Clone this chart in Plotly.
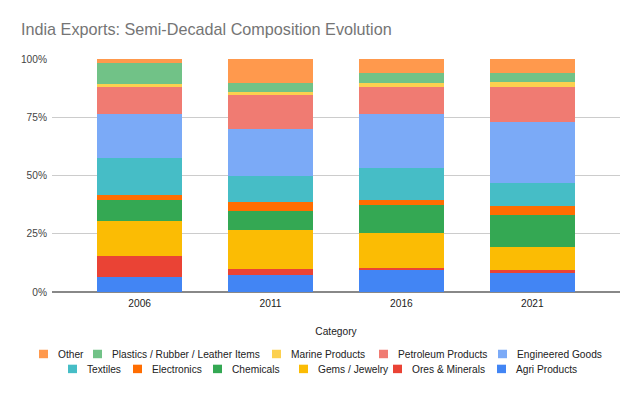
import plotly.graph_objects as go

# ---------------- data ----------------
years = ["2006", "2011", "2016", "2021"]

agri_products = [6.6, 7.1, 9.3, 8.1]
ores_minerals = [8.9, 2.9, 0.9, 1.4]
gems_jewelry = [15.1, 16.7, 15.0, 10.0]
chemicals = [9.0, 8.1, 12.3, 13.6]
electronics = [2.1, 3.6, 2.1, 3.6]
textiles = [15.7, 11.4, 13.6, 10.0]
engineered_goods = [19.0, 20.1, 23.4, 26.4]
petroleum_products = [11.4, 14.7, 11.3, 14.9]
marine_products = [1.4, 1.3, 1.9, 2.1]
plastics_rubber_leather = [8.9, 3.6, 4.4, 3.7]
other = [1.9, 10.4, 5.9, 6.1]

series_names = [
    "Agri Products", "Ores & Minerals", "Gems / Jewelry", "Chemicals",
    "Electronics", "Textiles", "Engineered Goods", "Petroleum Products",
    "Marine Products", "Plastics / Rubber / Leather Items", "Other",
]
series_values = [
    agri_products, ores_minerals, gems_jewelry, chemicals, electronics,
    textiles, engineered_goods, petroleum_products, marine_products,
    plastics_rubber_leather, other,
]

y_tick_vals = [0, 0.25, 0.5, 0.75, 1.0]
y_tick_text = ["0%", "25%", "50%", "75%", "100%"]

# ---------------- styles ----------------
colors = {
    "Agri Products": "#4285F4",
    "Ores & Minerals": "#EA4335",
    "Gems / Jewelry": "#FBBC04",
    "Chemicals": "#34A853",
    "Electronics": "#FF6D01",
    "Textiles": "#46BDC6",
    "Engineered Goods": "#7BAAF7",
    "Petroleum Products": "#F07B72",
    "Marine Products": "#FCD04F",
    "Plastics / Rubber / Leather Items": "#71C287",
    "Other": "#FF994D",
}

FONT = "Arial, Liberation Sans, sans-serif"
OFF = 8  # page body margin in the browser
W, H = 640 - OFF, 396 - OFF
ML, MR, MT = 52 - OFF, 20, 58.5 - OFF
PLOT_BOTTOM = 292.5 - OFF
MB = H - PLOT_BOTTOM
PW = W - ML - MR
PH = H - MT - MB

fig = go.Figure()
for name, vals in zip(series_names, series_values):
    fig.add_trace(go.Bar(
        x=years, y=vals, name=name,
        marker=dict(color=colors[name], line=dict(width=0)),
        showlegend=False,
    ))

# ---------------- manual legend (two centred rows) ----------------
def px_to_paper_x(px):
    return (px - OFF - ML) / PW


def px_to_paper_y(py):
    return (PLOT_BOTTOM - (py - OFF)) / PH


legend_rows = [
    (355, [("Other", 39), ("Plastics / Rubber / Leather Items", 93),
           ("Marine Products", 272), ("Petroleum Products", 379),
           ("Engineered Goods", 498)]),
    (370, [("Textiles", 68), ("Electronics", 133), ("Chemicals", 213),
           ("Gems / Jewelry", 299), ("Ores & Minerals", 393),
           ("Agri Products", 497)]),
]
shapes = []
annotations = []
for yc, items in legend_rows:
    for name, ix in items:
        shapes.append(dict(
            type="rect", xref="paper", yref="paper",
            x0=px_to_paper_x(ix), x1=px_to_paper_x(ix + 9),
            y0=px_to_paper_y(yc + 4), y1=px_to_paper_y(yc - 4.5),
            fillcolor=colors[name], line=dict(width=0),
        ))
        annotations.append(dict(
            text=name, xref="paper", yref="paper",
            x=px_to_paper_x(ix + 17), y=px_to_paper_y(yc),
            xanchor="left", yanchor="middle", showarrow=False,
            font=dict(family=FONT, size=10.2, color="#222222"),
        ))

fig.update_layout(
    width=W, height=H,
    margin=dict(l=ML, r=MR, t=MT, b=MB, autoexpand=False),
    paper_bgcolor="white", plot_bgcolor="white",
    barmode="stack", barnorm="fraction", bargap=0.35,
    title=dict(
        text="India Exports: Semi-Decadal Composition Evolution",
        x=(21 - OFF) / W, xanchor="left", xref="container",
        y=1 - (29.5 - OFF) / H, yanchor="middle", yref="container",
        font=dict(family=FONT, size=16.2, color="#757575"),
    ),
    xaxis=dict(
        type="category", range=[-0.67, 3.67],
        showgrid=False, zeroline=False, showline=False, ticks="",
        tickfont=dict(family=FONT, size=10.2, color="#222222"),
        ticklabelstandoff=4,
        title=dict(text="Category", standoff=19,
                   font=dict(family=FONT, size=10.2, color="#222222")),
        automargin=False, fixedrange=True,
    ),
    yaxis=dict(
        range=[0, 1], tickvals=y_tick_vals, ticktext=y_tick_text,
        showgrid=True, gridcolor="#cccccc", gridwidth=1,
        zeroline=True, zerolinecolor="#888888", zerolinewidth=1.5,
        showline=False, ticks="",
        tickfont=dict(family=FONT, size=10.2, color="#444444"),
        ticklabelstandoff=4,
        automargin=False, fixedrange=True,
    ),
    shapes=shapes,
    annotations=annotations,
    showlegend=False,
)

fig.write_html("out.html")
